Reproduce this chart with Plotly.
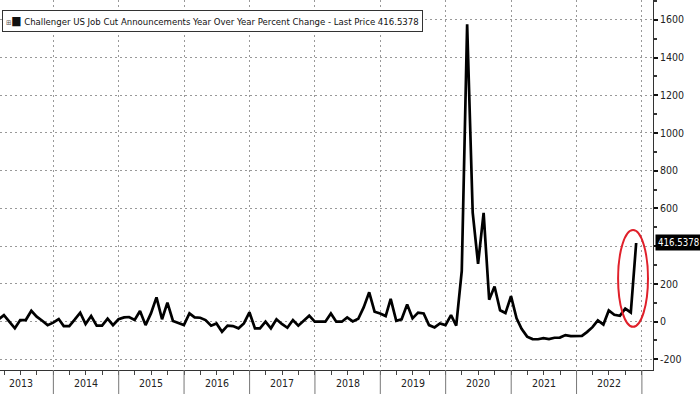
import pandas as pd
import plotly.graph_objects as go

# ---- data (month-end values, % change year over year) ----
v2013 = [10, 34, 0, -36, 8, 8, 57, 26, 4, -19, -6]            # Feb..Dec 2013
v2014 = [13, -24, -24, 10, 47, -13, 29, -22, -22, 15, -19, 12]
v2015 = [22, 24, 8, 56, -19, 43, 128, 12, 100, 3, -6, -19]
v2016 = [43, 22, 20, 8, -22, -10, -54, -22, -24, -36, -10, 49]
v2017 = [-36, -36, -1, -36, 12, -13, -33, 8, -22, 4, 31, -1]
v2018 = [-1, -1, 43, -1, -1, 22, 1, 15, 75, 155, 52, 43]
v2019 = [29, 120, 4, 12, 91, 17, 47, 43, -19, -31, -10, -19]
v2020 = [34, -22, 269, 1576, 577, 306, 576, 116, 186, 60, 45, 135]
v2021 = [17, -39, -80, -93, -94, -88, -93, -86, -85, -72, -77, -75]
v2022 = [-76, -56, -30, 6, -16, 59, 36, 30, 68, 48, 416.5378]   # Jan..Nov 2022

values = v2013 + v2014 + v2015 + v2016 + v2017 + v2018 + v2019 + v2020 + v2021 + v2022
start_month = "2013-02-28"
dates = pd.date_range(start_month, periods=len(values), freq=pd.offsets.MonthEnd())

y_ticks = [-200, 0, 200, 400, 600, 800, 1000, 1200, 1400, 1600]
y_ticktext = ["-200", "0", "200", "", "600", "800", "1000", "1200", "1400", "1600"]  # 400 hidden by the last-price tag
year_labels = [2013, 2014, 2015, 2016, 2017, 2018, 2019, 2020, 2021, 2022]
year_starts = [2014, 2015, 2016, 2017, 2018, 2019, 2020, 2021, 2022, 2023]

series_name = "Challenger US Job Cut Announcements Year Over Year Percent Change"
last_value = values[-1]

FONT = "DejaVu Sans Condensed, Liberation Sans Narrow, Arial Narrow, Liberation Sans, sans-serif"

fig = go.Figure()
fig.add_trace(go.Scatter(
    x=dates, y=values, mode="lines",
    line=dict(color="black", width=2.7),
    name=series_name, showlegend=False,
))

# year separators below the axis
shapes = []
for yr in year_starts:
    shapes.append(dict(type="line", xref="x", yref="paper",
                       x0=f"{yr}-01-01", x1=f"{yr}-01-01", y0=0, y1=-0.07,
                       line=dict(color="#777", width=1)))
# red ellipse around the latest spike
shapes.append(dict(type="circle", xref="x", yref="y",
                   x0="2022-08-21", x1="2023-02-04", y0=-28, y1=485,
                   line=dict(color="#e0202a", width=2)))

annotations = [
    dict(xref="paper", yref="paper", x=0.003, y=0.972, xanchor="left", yanchor="top",
         text=("<span style='font-size:7px;color:#555'>⊞</span>"
               "<span style='font-size:12px'>■</span> "
               f"{series_name} - Last Price {last_value:.4f}"),
         showarrow=False, align="left",
         font=dict(family=FONT, size=9.5, color="#111"),
         bgcolor="white", bordercolor="#333", borderwidth=1, borderpad=3),
    dict(xref="paper", yref="y", x=1.003, y=last_value, xanchor="left", yanchor="middle",
         text=f"{last_value:.4f}", showarrow=False,
         font=dict(family=FONT, size=9.6, color="white"),
         bgcolor="black", borderpad=2),
]
for yr in year_labels:
    annotations.append(dict(xref="x", yref="paper", x=f"{yr}-07-02", y=-0.036,
                            xanchor="center", yanchor="middle", text=str(yr),
                            showarrow=False,
                            font=dict(family=FONT, size=10.5, color="#222")))

fig.update_layout(
    width=700, height=394,
    margin=dict(l=0, r=47, t=0, b=24, pad=0, autoexpand=False),
    paper_bgcolor="white", plot_bgcolor="white",
    shapes=shapes, annotations=annotations,
    showlegend=False,
    font=dict(family=FONT, size=10.5, color="#222"),
)

fig.update_xaxes(
    range=["2013-03-09", "2023-03-04"],
    type="date",
    dtick="M12", tick0="2014-01-01",
    showticklabels=False,
    ticks="outside", ticklen=4, tickcolor="#444",
    showgrid=True, gridcolor="#999", griddash="2px,3px", gridwidth=1,
    minor=dict(dtick="M3", tick0="2013-01-01", ticks="outside", ticklen=4,
               tickcolor="#444", showgrid=False),
    showline=True, linecolor="#333", linewidth=1,
    zeroline=False, automargin=False,
)

fig.update_yaxes(
    range=[-257, 1705], side="right",
    tickvals=y_ticks, ticktext=y_ticktext,
    ticks="outside", ticklen=4, tickwidth=2, tickcolor="#111",
    minor=dict(dtick=100, ticks="outside", ticklen=3, tickcolor="#333", showgrid=False),
    showgrid=True, gridcolor="#999", griddash="2px,3px", gridwidth=1,
    showline=True, linecolor="#333", linewidth=1,
    zeroline=False, automargin=False,
    tickfont=dict(family=FONT, size=10.5, color="#222"),
)

fig.write_html(
    "out.html",
    config={"displayModeBar": False},
    post_script="document.body.style.margin='0';document.body.style.padding='0';"
                "document.documentElement.style.overflow='hidden';",
)
